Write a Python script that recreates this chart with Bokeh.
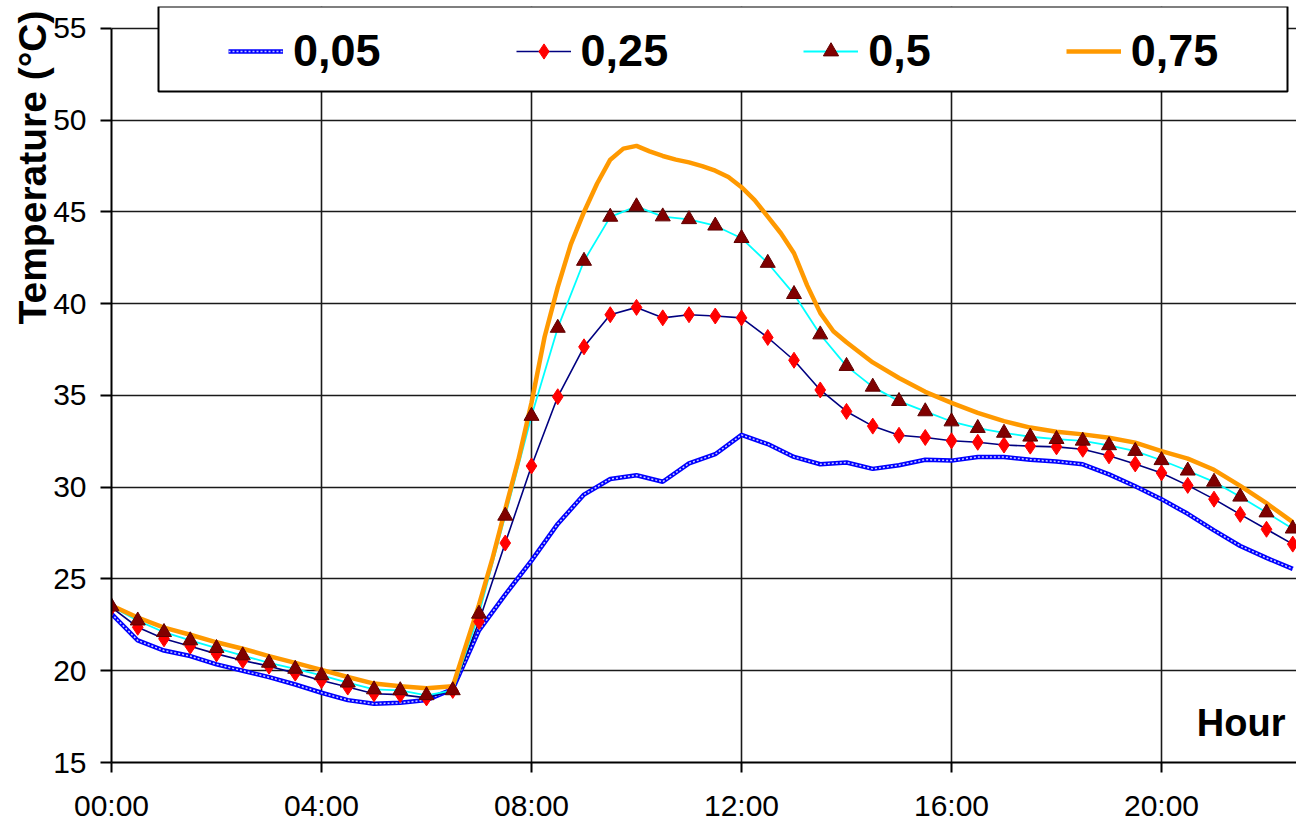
import numpy as np
from bokeh.plotting import figure
from bokeh.models import Range1d, FixedTicker, Label, Legend, LegendItem, BoxAnnotation, Title
from bokeh.embed import file_html
from bokeh.resources import INLINE

# ---------------- data ----------------
hours = [0.0, 0.5, 1.0, 1.5, 2.0, 2.5, 3.0, 3.5, 4.0, 4.5, 5.0, 5.5, 6.0, 6.5,
         7.0, 7.5, 8.0, 8.5, 9.0, 9.5, 10.0, 10.5, 11.0, 11.5, 12.0, 12.5,
         13.0, 13.5, 14.0, 14.5, 15.0, 15.5, 16.0, 16.5, 17.0, 17.5, 18.0,
         18.5, 19.0, 19.5, 20.0, 20.5, 21.0, 21.5, 22.0, 22.5]

temp_005 = [23.1, 21.65, 21.1, 20.8, 20.35, 20.0, 19.65, 19.25, 18.8, 18.4,
            18.2, 18.25, 18.4, 19.0, 22.2, 24.15, 26.0, 28.0, 29.6, 30.45,
            30.65, 30.3, 31.3, 31.8, 32.85, 32.35, 31.65, 31.25, 31.35, 31.0,
            31.2, 31.5, 31.45, 31.65, 31.65, 31.5, 31.4, 31.25, 30.7, 30.05,
            29.35, 28.55, 27.65, 26.8, 26.15, 25.55]

temp_025 = [23.45, 22.37, 21.74, 21.34, 20.92, 20.56, 20.25, 19.87, 19.47,
            19.11, 18.75, 18.7, 18.52, 18.93, 22.68, 26.96, 31.16, 34.93,
            37.65, 39.4, 39.8, 39.23, 39.4, 39.33, 39.23, 38.16, 36.92, 35.3,
            34.13, 33.33, 32.83, 32.71, 32.53, 32.45, 32.3, 32.24, 32.2, 32.07,
            31.71, 31.27, 30.78, 30.1, 29.35, 28.52, 27.71, 26.9]

temp_05 = [23.5, 22.73, 22.1, 21.65, 21.23, 20.83, 20.43, 20.1, 19.75, 19.35,
           18.98, 18.93, 18.66, 18.93, 23.1, 28.44, 33.88, 38.68, 42.33, 44.73,
           45.3, 44.75, 44.6, 44.25, 43.57, 42.22, 40.52, 38.32, 36.6, 35.47,
           34.69, 34.13, 33.58, 33.22, 32.96, 32.75, 32.62, 32.53, 32.28, 31.97,
           31.47, 30.9, 30.29, 29.48, 28.62, 27.74]

# the 0,75 curve is read at a finer step through the morning peak
hours_075 = [0.0, 0.5, 1.0, 1.5, 2.0, 2.5, 3.0, 3.5, 4.0, 4.5, 5.0, 5.5, 6.0,
             6.5, 7.0, 7.25, 7.5, 7.75, 8.0, 8.25, 8.5, 8.75, 9.0, 9.25, 9.5,
             9.75, 10.0, 10.25, 10.5, 10.75, 11.0, 11.25, 11.5, 11.75, 12.0,
             12.25, 12.5, 12.75, 13.0, 13.25, 13.5, 13.75, 14.0, 14.5, 15.0,
             15.5, 16.0, 16.5, 17.0, 17.5, 18.0, 18.5, 19.0, 19.5, 20.0, 20.5,
             21.0, 21.5, 22.0, 22.5]
temp_075 = [23.55, 22.9, 22.35, 21.96, 21.55, 21.2, 20.8, 20.43, 20.05, 19.66,
            19.3, 19.15, 19.05, 19.15, 23.6, 26.05, 28.8, 31.5, 34.6, 38.2,
            40.9, 43.25, 45.0, 46.55, 47.85, 48.45, 48.6, 48.3, 48.05, 47.85,
            47.7, 47.5, 47.25, 46.9, 46.35, 45.65, 44.75, 43.84, 42.75, 41.0,
            39.5, 38.5, 37.9, 36.8, 35.95, 35.2, 34.6, 34.05, 33.6, 33.25,
            33.02, 32.88, 32.7, 32.43, 31.97, 31.56, 30.95, 30.07, 29.13, 28.1]

series_labels = ["0,05", "0,25", "0,5", "0,75"]
x_ticks = [0, 4, 8, 12, 16, 20]
x_tick_labels = ["00:00", "04:00", "08:00", "12:00", "16:00", "20:00"]
y_ticks = [15, 20, 25, 30, 35, 40, 45, 50, 55]
y_title = "Temperature (°C)"
x_title = "Hour"

# ---------------- layout ----------------
W, H = 1296, 824
LEFT, TOP, BOTTOM = 111, 6, 60
PX_PER_HOUR = 52.5
PX_PER_DEG = 18.4
x_end = (W - LEFT) / PX_PER_HOUR
y_top = 55 + (28 - TOP) / PX_PER_DEG

p = figure(width=W, height=H, output_backend="svg", toolbar_location=None,
           x_range=Range1d(0, x_end), y_range=Range1d(15, y_top),
           min_border_left=LEFT, min_border_right=0, min_border_top=TOP,
           min_border_bottom=BOTTOM, background_fill_color="white",
           border_fill_color="white")
p.outline_line_color = None

FONT = "Liberation Sans"

# axes
p.xaxis.ticker = FixedTicker(ticks=x_ticks)
p.xaxis.major_label_overrides = dict(zip(x_ticks, x_tick_labels))
p.yaxis.ticker = FixedTicker(ticks=y_ticks)
p.yaxis.bounds = (15, 55)
for ax, tout, stand in ((p.xaxis, 10, 16), (p.yaxis, 11, 14)):
    ax.axis_line_color = "black"
    ax.axis_line_width = 2
    ax.major_tick_line_color = "black"
    ax.major_tick_line_width = 2
    ax.major_tick_out = tout
    ax.major_tick_in = 0
    ax.minor_tick_line_color = None
    ax.major_label_text_font = FONT
    ax.major_label_text_font_size = "30px"
    ax.major_label_text_color = "black"
    ax.major_label_standoff = stand

# y-axis title (placed to the left of the axis, aligned to the top)
p.add_layout(Title(text=y_title, align="right", text_font=FONT,
                   text_font_size="39px", text_font_style="bold",
                   text_color="black", standoff=-6, offset=4), "left")

# grid
p.xgrid.ticker = FixedTicker(ticks=x_ticks)
p.ygrid.ticker = FixedTicker(ticks=y_ticks)
for g in (p.xgrid, p.ygrid):
    g.grid_line_color = "#1a1a1a"
    g.grid_line_width = 1.6

# series
r05a = p.line(hours, temp_005, line_color="#0000ff", line_width=4.5)
r05b = p.line(hours, temp_005, line_color="#c8ccff", line_width=1.5, line_dash="2 2")
r25 = p.line(hours, temp_025, line_color="#000080", line_width=1.6)
r50 = p.line(hours, temp_05, line_color="#00ffff", line_width=1.8)
r75 = p.line(hours_075, temp_075, line_color="#ff9900", line_width=4.5)
r25m = p.scatter(hours, temp_025, marker="diamond", size=16, fill_color="#ff0000",
                 line_color="#ff0000", line_width=1)
r50m = p.scatter(hours, temp_05, marker="triangle", size=15, fill_color="#800000",
                 line_color="#600000", line_width=1)

# legend box + legend
FB = H - BOTTOM  # frame bottom in canvas pixels
box = BoxAnnotation(left=158 - LEFT, right=1287 - LEFT,
                    top=FB - 8, bottom=FB - 93,
                    left_units="screen", right_units="screen",
                    top_units="screen", bottom_units="screen",
                    fill_color="white", fill_alpha=1.0,
                    line_color="black", line_width=2, line_alpha=1.0)
p.add_layout(box)

items = [LegendItem(label=series_labels[0], renderers=[r05a, r05b]),
         LegendItem(label=series_labels[1], renderers=[r25, r25m]),
         LegendItem(label=series_labels[2], renderers=[r50, r50m]),
         LegendItem(label=series_labels[3], renderers=[r75])]
legend = Legend(items=items, orientation="horizontal",
                location=(117, FB - 79),
                padding=10, margin=0, spacing=135, glyph_width=55,
                glyph_height=38, label_standoff=10,
                label_text_font=FONT, label_text_font_size="45px",
                label_text_font_style="bold", label_text_color="black",
                background_fill_alpha=0, border_line_color=None)
p.add_layout(legend)

# x-axis title inside the plot area
p.add_layout(Label(x=1285 - LEFT, y=FB - 724, x_units="screen", y_units="screen",
                   text=x_title, text_align="right", text_baseline="alphabetic",
                   text_font=FONT, text_font_size="38px", text_font_style="bold",
                   text_color="black"))

open("out.html", "w").write(file_html(p, INLINE))
